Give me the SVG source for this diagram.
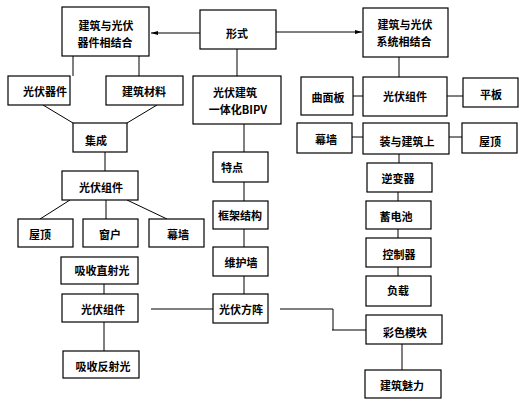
<svg xmlns="http://www.w3.org/2000/svg" width="526" height="404" viewBox="0 0 526 404">
<style>
rect{fill:#fff;stroke:#000;stroke-width:1.2}
text{font-family:"Noto Sans CJK SC","Noto Sans",sans-serif;font-size:11px;font-weight:bold;fill:#000;text-anchor:middle;dominant-baseline:central}
.c line,.c polyline{stroke:#000;stroke-width:1;fill:none}
</style>
<defs>
<marker id="ah" markerWidth="8" markerHeight="6" refX="7" refY="3" orient="auto" markerUnits="userSpaceOnUse">
<path d="M0,1 L7,3 L0,5 z" fill="#000"/>
</marker>
</defs>
<rect x="0" y="0" width="526" height="404" style="stroke:none"/>
<g class="c" id="connectors">
<line x1="200" y1="33" x2="151" y2="33" marker-end="url(#ah)"/>
<line x1="276" y1="32" x2="362" y2="32" marker-end="url(#ah)"/>
<line x1="73" y1="56" x2="73" y2="76"/>
<line x1="139" y1="56" x2="139" y2="76"/>
<line x1="237" y1="49" x2="237" y2="76"/>
<line x1="43" y1="105" x2="73" y2="123"/>
<line x1="157" y1="105" x2="127" y2="123"/>
<line x1="105" y1="152" x2="105" y2="171"/>
<line x1="70" y1="200" x2="40" y2="219"/>
<line x1="106" y1="200" x2="106" y2="219"/>
<line x1="127" y1="200" x2="167" y2="219"/>
<line x1="244" y1="124" x2="244" y2="152"/>
<line x1="244" y1="182" x2="244" y2="201"/>
<line x1="244" y1="229" x2="244" y2="247"/>
<line x1="244" y1="276" x2="244" y2="294"/>
<line x1="104" y1="284" x2="104" y2="294"/>
<line x1="104" y1="322" x2="104" y2="351"/>
<line x1="151" y1="309" x2="213" y2="309"/>
<polyline points="280,309 333,309 333,330"/>
<line x1="332" y1="330" x2="366" y2="330"/>
<line x1="399" y1="57" x2="399" y2="77"/>
<line x1="353" y1="96" x2="363" y2="96"/>
<line x1="447" y1="96" x2="463" y2="96"/>
<line x1="352" y1="137" x2="363" y2="137"/>
<line x1="449" y1="137" x2="462" y2="137"/>
<line x1="399" y1="154" x2="399" y2="163"/>
<line x1="398" y1="192" x2="398" y2="201"/>
<line x1="398" y1="229" x2="398" y2="238"/>
<line x1="398" y1="267" x2="398" y2="276"/>
<line x1="402" y1="344" x2="402" y2="370"/>
</g>
<g id="n1"><rect x="62" y="7" width="87" height="49"/><text x="106" y="25">建筑与光伏</text><text x="105" y="42">器件相结合</text></g>
<g id="n2"><rect x="200" y="10" width="76" height="39"/><text x="237" y="33">形式</text></g>
<g id="n3"><rect x="363" y="8" width="85" height="49"/><text x="405" y="24">建筑与光伏</text><text x="404" y="41">系统相结合</text></g>
<g id="n4"><rect x="8" y="76" width="62" height="29"/><text x="45" y="91">光伏器件</text></g>
<g id="n5"><rect x="106" y="76" width="77" height="29"/><text x="144" y="91">建筑材料</text></g>
<g id="n6"><rect x="193" y="76" width="88" height="48"/><text x="235" y="92">光伏建筑</text><text x="238" y="109">一体化BIPV</text></g>
<g id="n7"><rect x="301" y="77" width="52" height="38"/><text x="328" y="97">曲面板</text></g>
<g id="n8"><rect x="363" y="77" width="84" height="39"/><text x="405" y="96">光伏组件</text></g>
<g id="n9"><rect x="463" y="78" width="55" height="29"/><text x="491" y="94">平板</text></g>
<g id="n10"><rect x="73" y="123" width="54" height="29"/><text x="96" y="140">集成</text></g>
<g id="n11"><rect x="297" y="123" width="55" height="30"/><text x="326" y="139">幕墙</text></g>
<g id="n12"><rect x="363" y="123" width="86" height="31"/><text x="407" y="141">装与建筑上</text></g>
<g id="n13"><rect x="462" y="123" width="55" height="30"/><text x="490" y="141">屋顶</text></g>
<g id="n14"><rect x="213" y="152" width="55" height="30"/><text x="232" y="167">特点</text></g>
<g id="n15"><rect x="367" y="163" width="65" height="29"/><text x="398" y="178">逆变器</text></g>
<g id="n16"><rect x="62" y="171" width="76" height="29"/><text x="101" y="187">光伏组件</text></g>
<g id="n17"><rect x="213" y="201" width="55" height="28"/><text x="240" y="215">框架结构</text></g>
<g id="n18"><rect x="366" y="201" width="65" height="28"/><text x="396" y="216">蓄电池</text></g>
<g id="n19"><rect x="18" y="219" width="55" height="28"/><text x="40" y="234">屋顶</text></g>
<g id="n20"><rect x="83" y="219" width="55" height="28"/><text x="110" y="234">窗户</text></g>
<g id="n21"><rect x="149" y="219" width="55" height="28"/><text x="178" y="234">幕墙</text></g>
<g id="n22"><rect x="366" y="238" width="65" height="29"/><text x="399" y="254">控制器</text></g>
<g id="n23"><rect x="213" y="247" width="55" height="29"/><text x="241" y="262">维护墙</text></g>
<g id="n24"><rect x="61" y="257" width="77" height="27"/><text x="102" y="270">吸收直射光</text></g>
<g id="n25"><rect x="366" y="276" width="65" height="30"/><text x="398" y="290">负载</text></g>
<g id="n26"><rect x="62" y="294" width="76" height="28"/><text x="103" y="309">光伏组件</text></g>
<g id="n27"><rect x="213" y="294" width="55" height="29"/><text x="241" y="309">光伏方阵</text></g>
<g id="n28"><rect x="366" y="315" width="76" height="29"/><text x="405" y="332">彩色模块</text></g>
<g id="n29"><rect x="63" y="351" width="76" height="27"/><text x="103" y="366">吸收反射光</text></g>
<g id="n30"><rect x="365" y="370" width="76" height="28"/><text x="402" y="385">建筑魅力</text></g>
</svg>
